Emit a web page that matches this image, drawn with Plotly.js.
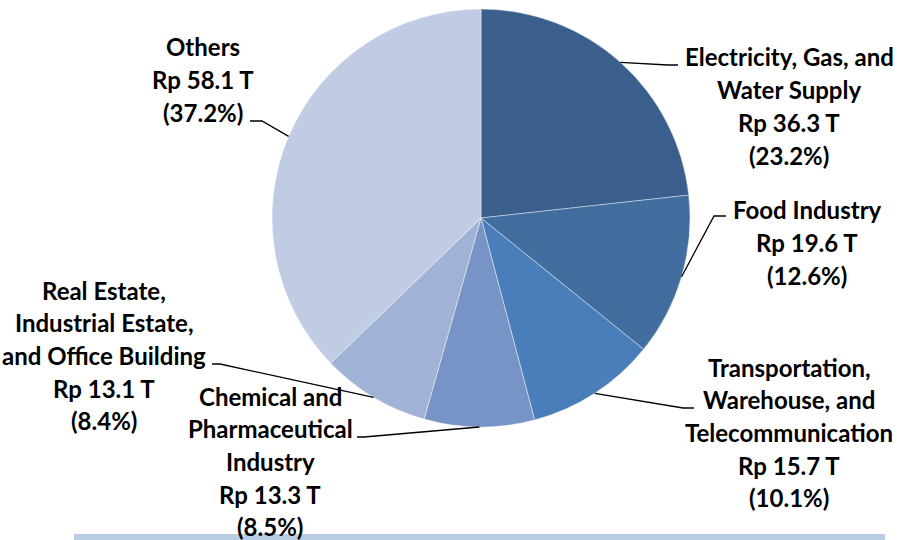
<!DOCTYPE html>
<html>
<head>
<meta charset="utf-8">
<script src="https://cdn.plot.ly/plotly-3.0.1.min.js"></script>
<style>html,body{margin:0;padding:0;background:#fff;}#chart{width:903px;height:540px;}</style>
</head>
<body>
<div id="chart"></div>
<script>
// ---- data ----
const categories = [
  "Electricity, Gas, and Water Supply",
  "Food Industry",
  "Transportation, Warehouse, and Telecommunication",
  "Chemical and Pharmaceutical Industry",
  "Real Estate, Industrial Estate, and Office Building",
  "Others"
];
const values = [36.3, 19.6, 15.7, 13.3, 13.1, 58.1];
const percents = ["23.2%", "12.6%", "10.1%", "8.5%", "8.4%", "37.2%"];
const labelLines = [
  ["Electricity, Gas, and", "Water Supply"],
  ["Food Industry"],
  ["Transportation,", "Warehouse, and", "Telecommunication"],
  ["Chemical and", "Pharmaceutical", "Industry"],
  ["Real Estate,", "Industrial Estate,", "and Office Building"],
  ["Others"]
];
const colors = ["#3a5f8c", "#416d9f", "#4a7ebb", "#7893c6", "#a0b3d6", "#c0cce3"];

// ---- layout (pixel positions of the label blocks and leader elbows) ----
const W = 903, H = 540;
const cx = 481, cy = 218, R = 209;
const labelCenterX = [789, 807, 789, 270, 104, 203];
const labelTopY    = [57, 210, 367, 396, 290, 47];
const lineGap = 32.7;
const elbows = [[668, 65], [714, 216], [683, 408], [364, 437], [220, 364], [262, 121]];
const ends   = [[678, 65], [726, 216], [694, 408], [357, 437], [212, 364], [250, 121]];

const px = x => x / W;
const py = y => 1 - y / H;

const total = values.reduce((a, b) => a + b, 0);

const annotations = [];
const shapes = [];
let cum = 0;
values.forEach((v, i) => {
  const mid = (cum + v / 2) / total;
  cum += v;
  const ang = mid * 2 * Math.PI;
  const ex = cx + R * Math.sin(ang);
  const ey = cy - R * Math.cos(ang);
  const lines = labelLines[i].concat(["Rp " + v.toFixed(1) + " T", "(" + percents[i] + ")"]);
  lines.forEach((t, k) => {
    annotations.push({
      xref: 'paper', yref: 'paper',
      x: px(labelCenterX[i]), y: py(labelTopY[i] + k * lineGap),
      xanchor: 'center', yanchor: 'middle',
      text: t, showarrow: false,
      font: {family: 'Lato, "Open Sans", sans-serif', size: 24, color: '#000000', weight: 700}
    });
  });
  shapes.push({
    type: 'path', xref: 'paper', yref: 'paper',
    path: `M ${px(ex)} ${py(ey)} L ${px(elbows[i][0])} ${py(elbows[i][1])} L ${px(ends[i][0])} ${py(ends[i][1])}`,
    line: {color: '#000000', width: 1.3}
  });
});

// bottom band
shapes.push({
  type: 'rect', xref: 'paper', yref: 'paper',
  x0: px(74), x1: px(885), y0: py(540), y1: py(534),
  fillcolor: '#b9cde5', line: {width: 0}, layer: 'below'
});

const trace = {
  type: 'pie',
  labels: categories,
  values: values,
  sort: false,
  direction: 'clockwise',
  rotation: 0,
  textinfo: 'none',
  hoverinfo: 'label+value+percent',
  marker: {colors: colors, line: {color: 'rgba(255,255,255,0.6)', width: 0.7}},
  domain: {x: [px(cx - R), px(cx + R)], y: [py(cy + R), py(cy - R)]},
  showlegend: false
};

const layout = {
  width: W, height: H,
  margin: {l: 0, r: 0, t: 0, b: 0},
  paper_bgcolor: '#ffffff',
  plot_bgcolor: '#ffffff',
  showlegend: false,
  annotations: annotations,
  shapes: shapes
};

Plotly.newPlot('chart', [trace], layout, {displayModeBar: false, staticPlot: true});
</script>
</body>
</html>
